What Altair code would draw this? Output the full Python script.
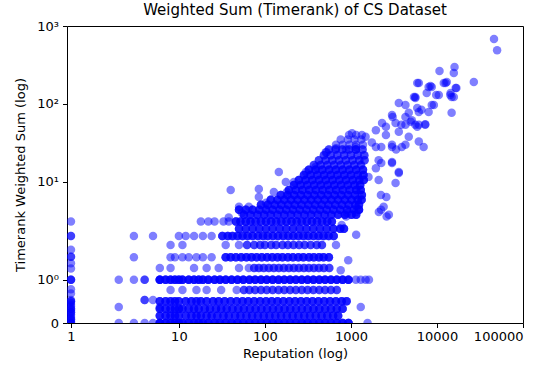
import math
import altair as alt
import pandas as pd

# ---------------- data ----------------
# reputation == 1 column
rep1_ts = [0, 0, 0.04, 0.08, 0.08, 0.12, 0.16, 0.2, 0.25, 0.25, 0.29, 0.33, 0.33, 0.38,
           0.42, 0.46, 0.5, 0.5, 0.53, 0.68, 0.78, 1.0, 1.0, 1.0, 1.26, 1.38, 1.53,
           1.53, 1.69, 2.03, 2.03, 3.1]

# isolated low-reputation points / light points at the band ends
low_rep = [2, 2, 2, 3, 3, 3, 3, 4, 4, 4, 4, 4, 5, 5, 5, 6, 6, 6, 6,
           8, 11, 16, 21, 31, 47,
           8, 15, 21, 29, 50, 65, 760,
           8, 9, 11, 13, 16, 19, 24, 930,
           8, 11, 35, 50, 670,
           10, 12, 15, 19, 24, 1150,
           18, 22, 26, 33, 38,
           1560, 1300, 1140, 1300, 1480, 1620]
low_ts = [1.0, 0.37, 0, 2.03, 1.52, 1.0, 0, 1.0, 1.0, 0.53, 0.53, 0, 2.03, 0.53, 0,
          1.27, 1.0, 0.37, 0,
          0.76, 0.76, 0.76, 0.76, 0.76, 0.76,
          1.27, 1.27, 1.27, 1.27, 1.27, 1.27, 1.22,
          1.52, 1.52, 1.52, 1.52, 1.52, 1.52, 1.52, 1.45,
          1.8, 1.8, 1.8, 1.8, 1.8,
          2.03, 2.03, 2.03, 2.03, 2.03, 2.1,
          3.1, 3.1, 3.1, 3.1, 3.1,
          0, 0.37, 1.0, 1.0, 1.0, 1.0]

# dense horizontal bands (reputations along each band)
r_000 = [6, 7, 8, 9, 10, 11, 13, 15, 17, 19, 22, 26, 30, 35, 41, 48, 56, 66, 77, 90,
         105, 123, 144, 168, 196, 229, 268, 313, 366, 428, 500, 585, 684, 800, 935]
r_017 = [6, 7, 8, 9, 10, 12, 14, 16, 18, 21, 24, 28, 33, 38, 45, 52, 61, 71, 83, 97,
         113, 132, 154, 180, 210, 245, 286, 334, 390, 455, 531, 620, 710]
r_033 = [6, 7, 8, 9, 10, 11, 13, 15, 17, 20, 23, 27, 31, 36, 42, 49, 57, 67, 78, 91,
         106, 124, 145, 169, 197, 230, 269, 314, 367, 429, 501, 586, 685, 800]
r_050 = [6, 7, 8, 9, 10, 12, 14, 16, 18, 21, 25, 29, 34, 40, 47, 55, 64, 75, 88, 103,
         120, 140, 164, 192, 224, 262, 306, 358, 418, 489, 571, 668, 780, 890]
r_076 = [57, 66, 77, 90, 105, 123, 144, 168, 196, 229, 268, 313, 366, 428, 500, 585, 684]
r_100 = [6, 7, 8, 9, 10, 11, 13, 15, 17, 19, 22, 26, 30, 35, 41, 48, 56, 66, 77, 90,
         105, 123, 144, 168, 196, 229, 268, 313, 366, 428, 500, 585, 684, 800, 935]
r_127 = [75, 85, 97, 111, 127, 145, 166, 190, 217, 248, 284, 324, 371, 424, 485, 560]
r_152 = [35, 40, 46, 53, 61, 70, 80, 92, 106, 122, 140, 160, 185, 212, 245, 280, 325,
         370, 425, 480, 554]
r_180 = [62, 75, 88, 100, 118, 135, 160, 185, 215, 250, 290, 340, 400, 460]
r_203 = [32, 37, 42, 48, 55, 63, 72, 83, 95, 108, 124, 142, 163, 187, 214, 245, 280,
         320, 367, 420, 480, 550, 630]
r_250 = [50, 60, 72, 86, 103, 123, 148, 177, 212, 254, 304, 364, 436, 522, 625, 750, 830]
r_310 = [46, 52, 60, 68, 78, 90, 103, 118, 135, 155, 178, 204, 234, 268, 307, 352, 403,
         462, 530, 600]

# dense cloud rows
r_380 = [57, 68, 82, 98, 117, 140, 168, 201, 240, 288, 344, 412, 494, 592, 708, 850, 1015, 1150]
r_440 = [50, 60, 72, 86, 103, 123, 148, 177, 212, 254, 304, 364, 436, 522, 625, 750, 900, 1080, 1240]
r_510 = [90, 108, 130, 155, 186, 222, 266, 319, 382, 457, 547, 655, 785, 940, 1125, 1240]
r_590 = [117, 140, 168, 201, 240, 288, 344, 412, 494, 592, 708, 850, 1015, 1200, 1330]
r_680 = [153, 183, 219, 262, 314, 376, 450, 539, 645, 773, 925, 1110, 1340]
r_790 = [190, 228, 273, 327, 391, 469, 561, 672, 805, 964, 1150, 1300]
r_910 = [217, 260, 311, 373, 446, 535, 640, 767, 918, 1100, 1280]
r_1060 = [248, 297, 356, 426, 510, 611, 732, 876, 1050, 1250, 1410]
r_1230 = [284, 340, 407, 487, 583, 698, 836, 1000, 1200, 1400]
r_1430 = [324, 388, 465, 557, 667, 799, 957, 1150, 1380]
r_1650 = [371, 444, 532, 637, 763, 914, 1095, 1310]
r_1900 = [424, 508, 608, 728, 872, 1045, 1250, 1440]
r_2200 = [485, 581, 696, 833, 998, 1195, 1430]
r_2600 = [554, 664, 795, 952, 1140, 1365]
r_3000 = [670, 800, 960, 1150, 1380]
r_3500 = [760, 920, 1100, 1320]
r_4000 = [950, 1150]

band_levels = [0, 0.17, 0.33, 0.5, 0.76, 1.0, 1.27, 1.52, 1.8, 2.03, 2.5, 3.1,
               3.8, 4.4, 5.1, 5.9, 6.8, 7.9, 9.1, 10.6, 12.3, 14.3, 16.5, 19, 22,
               26, 30, 35, 40]
band_reps = [r_000, r_017, r_033, r_050, r_076, r_100, r_127, r_152, r_180, r_203,
             r_250, r_310, r_380, r_440, r_510, r_590, r_680, r_790, r_910, r_1060,
             r_1230, r_1430, r_1650, r_1900, r_2200, r_2600, r_3000, r_3500, r_4000]
band_users = [4, 3, 3, 3, 2, 4, 2, 3, 2, 3, 3, 3,
              3, 3, 3, 3, 3, 3, 3, 3, 3, 3, 2, 2, 2,
              2, 1, 1, 1]

# scattered points
sparse_rep = [40, 50, 85, 85, 145, 175, 217, 127, 180, 300, 390, 510, 670, 38, 54, 65, 103,
              900, 1150, 2110, 2600, 3600, 3300, 2230, 2580, 2240, 2760, 1240,
              5900, 8000, 10500, 12600, 14400, 14800, 3600, 4300, 5600, 5900, 4700, 6150,
              8000, 9200, 3000, 2300, 3300, 4300, 5600, 7300, 5100,
              1030, 1340, 1950, 2550, 3600, 4700, 3000, 4300, 6150, 7000, 880, 1140, 1750,
              2250, 3350, 2100, 3000, 3600, 2100, 1600, 1950, 2400, 880, 780,
              8400, 16500, 5600, 7600, 9800, 14800, 3050, 4300, 5900, 1480, 2550, 1140,
              1950, 3000, 3900, 520, 2250, 3000,
              46000, 50000, 10700, 16000, 15700, 26800, 13000, 12000, 16800, 14300, 15700,
              6150, 8700, 5400, 6600, 8700, 4960, 6150, 7300, 3850]
sparse_ts = [7.9, 4.8, 8.1, 6.4, 13.4, 10, 10, 7.4, 7.4, 13.4, 15.6, 24, 27, 3.5, 4.0, 4.8, 5.4,
             4.0, 4.1, 4.1, 3.6, 13, 9.7, 6.8, 6.4, 4.4, 3.8, 4.4,
             186, 165, 130, 186, 138, 77, 103, 97, 119, 89, 77, 79,
             79, 97, 72, 57, 57, 54, 54, 54, 62,
             42, 40, 46, 40, 44, 38, 30, 30, 33, 28, 26, 26, 32,
             28, 26, 19, 18, 13.4, 10.6, 11.6, 15, 4.8, 3.6, 2.8,
             170, 160, 123, 138, 130, 123, 68, 68, 51, 38, 51, 28,
             28, 28, 28, 24, 17.5, 17.5,
             680, 490, 265, 298, 250, 191, 191, 186, 160, 130, 123,
             186, 165, 123, 84, 97, 59, 54, 55, 54]

x_ticks = [1, 10, 100, 1000, 10000, 100000]
y_ticks = [0, 1, 10, 100, 1000]

# ---------------- build table ----------------
rows = [{"rep": 1, "ts": t} for t in rep1_ts]
rows += [{"rep": r, "ts": t} for r, t in zip(low_rep, low_ts)]
for lvl, reps, k in zip(band_levels, band_reps, band_users):
    rows += [{"rep": r, "ts": lvl} for r in reps] * k
sp = pd.DataFrame({"rep": sparse_rep, "ts": sparse_ts})
df = pd.concat([pd.DataFrame(rows), sp], ignore_index=True)

# matplotlib-style symlog (linthresh=2, linscale=1, base 10)
LIN = 1.0 / (1.0 - 0.1)


def symlog(v):
    return v * LIN if v <= 2 else 2 * (LIN + math.log10(v / 2))


def expr(field):
    return (f"datum.{field} <= 2 ? datum.{field} * {LIN} : "
            f"2 * ({LIN} + log(datum.{field} / 2) / LN10)")


x_vals = [symlog(v) for v in x_ticks]
y_vals = [symlog(v) for v in y_ticks]

x_label_expr = ("datum.value < 2 ? '1' : datum.value < 4.6 ? '10' : datum.value < 6.6 ? '100' : "
                "datum.value < 8.6 ? '1000' : datum.value < 10.6 ? '10000' : '100000'")
y_label_expr = ("datum.value < 0.5 ? '0' : datum.value < 2 ? '10⁰' : datum.value < 4.6 ? '10¹' : "
                "datum.value < 6.6 ? '10²' : '10³'")

FONT = "DejaVu Sans"

chart = (
    alt.Chart(df)
    .transform_calculate(tx=expr("rep"), ty=expr("ts"))
    .mark_circle(color="#0000ff", opacity=0.5, size=72, clip=True)
    .encode(
        x=alt.X("tx:Q", title="Reputation (log)",
                scale=alt.Scale(domain=[symlog(0.917), symlog(100000)], nice=False, zero=False),
                axis=alt.Axis(values=x_vals, labelExpr=x_label_expr, grid=False,
                              titlePadding=4, labelPadding=3)),
        y=alt.Y("ty:Q", title="Timerank Weighted Sum (log)",
                scale=alt.Scale(domain=[0, symlog(1000)], nice=False, zero=False),
                axis=alt.Axis(values=y_vals, labelExpr=y_label_expr, grid=False,
                              titlePadding=9, labelPadding=4)),
    )
    .properties(
        width=456, height=297,
        title=alt.TitleParams("Weighted Sum (Timerank) of CS Dataset", fontSize=15,
                              font=FONT, fontWeight="normal", color="black",
                              anchor="middle", frame="group", offset=2),
        autosize=alt.AutoSizeParams(type="none"),
        padding={"left": 67, "top": 26, "right": 24, "bottom": 45},
    )
    .configure(background="white")
    .configure_view(stroke="black", strokeWidth=1)
    .configure_axis(domain=False, tickColor="black", tickSize=4.5, tickWidth=1,
                    labelColor="black", labelFont=FONT, labelFontSize=13,
                    titleFont=FONT, titleFontSize=13, titleFontWeight="normal",
                    titleColor="black")
)

chart.save("out.html", embed_options={"renderer": "svg", "actions": False})
